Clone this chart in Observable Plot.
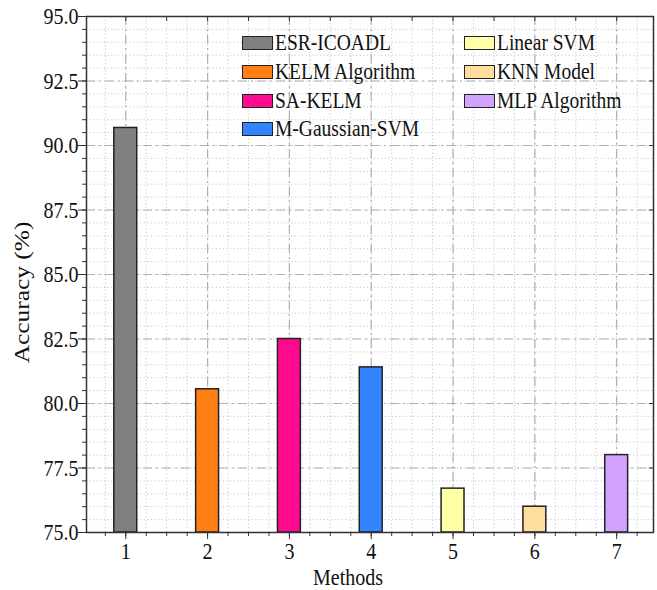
<!DOCTYPE html>
<html>
<head>
<meta charset="utf-8">
<script src="https://cdn.jsdelivr.net/npm/d3@7"></script>
<script src="https://cdn.jsdelivr.net/npm/@observablehq/plot@0.6"></script>
<style>
  html, body { margin: 0; padding: 0; background: #fff; }
  #wrap { position: relative; width: 657px; height: 590px; font-family: "Liberation Serif", "DejaVu Serif", serif; }
  #legend { position: absolute; left: 242px; top: 29px; display: grid; grid-template-columns: 222px 200px; grid-auto-flow: column; grid-template-rows: repeat(4, 28.7px); }
  .item { display: flex; align-items: center; font-size: 19.5px; color: #111; white-space: nowrap; }
  .item .lab { display: inline-block; transform: scaleY(1.2); transform-origin: 50% 55%; }
  .sw { width: 29px; height: 12px; border: 1.5px solid #222; margin-right: 2px; box-sizing: content-box; }
</style>
</head>
<body>
<div id="wrap"><div id="legend"></div></div>
<script>
const methods = [1, 2, 3, 4, 5, 6, 7];
const names = ["ESR-ICOADL", "KELM Algorithm", "SA-KELM", "M-Gaussian-SVM", "Linear SVM", "KNN Model", "MLP Algorithm"];
const accuracy = [90.68, 80.55, 82.5, 81.4, 76.7, 76.0, 78.0];
const colors = ["#808080", "#ff7f15", "#ff0a8f", "#3385ff", "#ffffa6", "#ffdd9c", "#d2a2ff"];
const yTicks = [75, 77.5, 80, 82.5, 85, 87.5, 90, 92.5, 95];
const xTicks = [1, 2, 3, 4, 5, 6, 7];

const data = methods.map((m, i) => ({m, name: names[i], acc: accuracy[i]}));
const yMinor = d3.range(75, 95.001, 0.5);
const xMinor = d3.range(0.75, 7.45, 0.25);
const xHalf = d3.range(1, 7.45, 0.5);
const barHalf = 0.14;

const chart = Plot.plot({
  width: 657,
  height: 590,
  marginLeft: 86,
  marginTop: 16,
  marginRight: 4,
  marginBottom: 58,
  style: {fontFamily: "Liberation Serif", fontSize: "20px", color: "#111", background: "white"},
  x: {domain: [0.52, 7.45]},
  y: {domain: [yTicks[0], yTicks[yTicks.length - 1]]},
  color: {domain: names, range: colors},
  marks: [
    Plot.ruleY(yMinor, {stroke: "#c8c8c8", strokeDasharray: "1.2,2.4", strokeWidth: 1}),
    Plot.ruleX(xMinor, {stroke: "#c8c8c8", strokeDasharray: "1.2,2.4", strokeWidth: 1}),
    Plot.ruleY(yTicks, {stroke: "#b0b0b0", strokeDasharray: "9,4,2,4", strokeWidth: 1.2}),
    Plot.ruleX(xTicks, {stroke: "#b0b0b0", strokeDasharray: "9,4,2,4", strokeWidth: 1.2}),
    Plot.rectY(data, {x1: d => d.m - barHalf, x2: d => d.m + barHalf, y1: yTicks[0], y2: "acc", fill: "name", stroke: "#222", strokeWidth: 1.5}),
    Plot.frame({stroke: "#333", strokeWidth: 1.5}),
    Plot.axisY(yTicks, {tickFormat: d => d.toFixed(1), tickSize: 8, tickPadding: 0, label: null, stroke: "#333", fontSize: 20}),
    Plot.axisY(yMinor, {tickFormat: null, text: null, tickSize: 4, label: null, stroke: "#333"}),
    Plot.axisY(yTicks, {anchor: "right", tickSize: -5, text: null, label: null, stroke: "#333"}),
    Plot.axisX(xTicks, {tickFormat: d => String(d), tickSize: 7, tickPadding: 2, label: null, stroke: "#333", fontSize: 20}),
    Plot.axisX(xMinor, {text: null, tickSize: 4, label: null, stroke: "#333"}),
    Plot.axisX(xHalf, {anchor: "top", text: null, tickSize: -4, label: null, stroke: "#333"}),
    Plot.text(["Accuracy (%)"], {frameAnchor: "left", textAnchor: "middle", rotate: -90, dx: -64, dy: 18, fontSize: 20, fill: "#111"}),
    Plot.text(["Methods"], {frameAnchor: "bottom", textAnchor: "middle", dy: 52, dx: -22, fontSize: 20, fill: "#111"})
  ]
});

// the reference's lettering is drawn taller than wide: stretch each label along the picture's vertical
d3.select(chart).selectAll("text").each(function() {
  const t = this.getAttribute("transform");
  if (!t) return;
  const s = /rotate/.test(t) ? "scale(1.27,1)" : "scale(1,1.2)";
  this.setAttribute("transform", `${t} ${s}`);
});

const wrap = document.getElementById("wrap");
wrap.insertBefore(chart, wrap.firstChild);

const legend = document.getElementById("legend");
names.forEach((n, i) => {
  const it = document.createElement("div");
  it.className = "item";
  const sw = document.createElement("span");
  sw.className = "sw";
  sw.style.background = colors[i];
  const lab = document.createElement("span");
  lab.className = "lab";
  lab.textContent = n;
  it.appendChild(sw);
  it.appendChild(lab);
  legend.appendChild(it);
});
</script>
</body>
</html>
